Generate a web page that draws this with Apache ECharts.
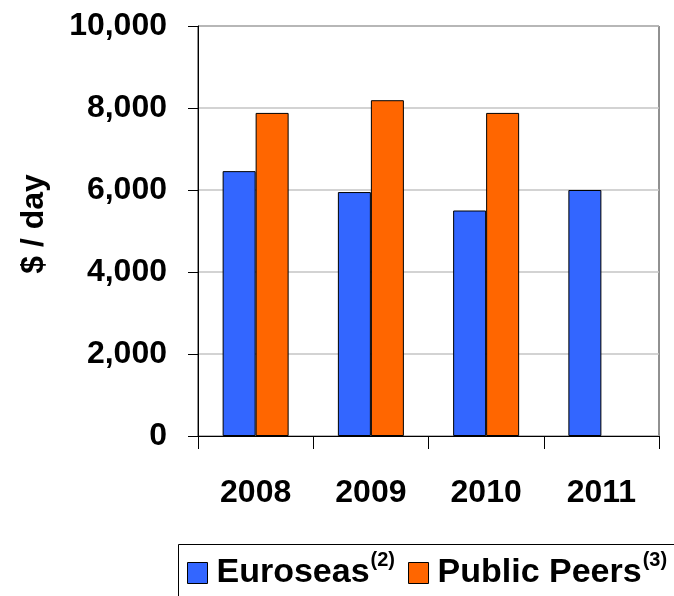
<!DOCTYPE html>
<html>
<head>
<meta charset="utf-8">
<script src="https://cdn.jsdelivr.net/npm/echarts@6/dist/echarts.min.js"></script>
<style>
  html, body { margin: 0; padding: 0; background: #fff; }
  #chart { width: 674px; height: 596px; }
</style>
</head>
<body>
<div id="chart"></div>
<script>
// Daily rates, $ / day
const years = ['2008', '2009', '2010', '2011'];
const euroseas = [6460, 5950, 5500, 6000];
const publicPeers = [7880, 8190, 7880, null];
const seriesNames = ['Euroseas', 'Public Peers'];
const footnotes = { 'Euroseas': '(2)', 'Public Peers': '(3)' };
const yTicks = [0, 2000, 4000, 6000, 8000, 10000];

const FONT = 'Arial, "Liberation Sans", sans-serif';

const chart = echarts.init(document.getElementById('chart'), null, { renderer: 'canvas' });

chart.setOption({
  animation: false,
  backgroundColor: '#ffffff',
  textStyle: { fontFamily: FONT },
  grid: {
    left: 198, right: 15, top: 26, bottom: 160,
    show: true, borderColor: '#222', borderWidth: 1, backgroundColor: 'transparent'
  },
  legend: {
    left: 187, top: 550, padding: 0, width: 487,
    icon: 'rect', itemWidth: 20, itemHeight: 21, itemGap: 13,
    data: seriesNames,
    formatter: name => '{main|' + name + '}{sup|' + footnotes[name] + '}',
    textStyle: {
      fontFamily: FONT, fontSize: 34, fontWeight: 'bold', color: '#000',
      rich: {
        main: { fontFamily: FONT, fontSize: 34, fontWeight: 'bold', color: '#000', padding: [0, 0, 0, 4] },
        sup: { fontFamily: FONT, fontSize: 20, fontWeight: 'bold', color: '#000', verticalAlign: 'top', padding: [0, 0, 26, 1] }
      }
    },
    itemStyle: { borderColor: '#000', borderWidth: 1 }
  },
  graphic: [{
    type: 'rect', left: 176, top: 542, silent: true,
    shape: { x: 0.5, y: 0.5, width: 600, height: 120 },
    style: { fill: 'none', stroke: '#000', lineWidth: 1 }
  }],
  xAxis: {
    type: 'category',
    data: years,
    boundaryGap: true,
    axisLine: { lineStyle: { color: '#000', width: 1 } },
    axisTick: { show: true, length: 13, inside: false, lineStyle: { color: '#000' } },
    axisLabel: { margin: 41, fontFamily: FONT, fontSize: 32, fontWeight: 'bold', color: '#000' },
    splitLine: { show: false }
  },
  yAxis: {
    type: 'value',
    min: yTicks[0], max: yTicks[yTicks.length - 1], interval: 2000,
    name: '$ / day',
    nameLocation: 'middle', nameRotate: 90, nameGap: 148,
    nameTextStyle: { fontFamily: FONT, fontSize: 32, fontWeight: 'bold', color: '#000', padding: [0, 0, 0, 14] },
    axisLine: { show: true, lineStyle: { color: '#000', width: 1 } },
    axisTick: { show: true, length: 10, lineStyle: { color: '#000' } },
    axisLabel: {
      margin: 31, fontFamily: FONT, fontSize: 32, fontWeight: 'bold', color: '#000',
      formatter: v => v.toLocaleString('en-US')
    },
    splitLine: { show: true, lineStyle: { color: '#c4c4c4', width: 1.5 } }
  },
  series: [
    {
      name: seriesNames[0], type: 'bar', data: euroseas,
      barWidth: 33, barGap: '0%',
      itemStyle: { color: '#3366FF', borderColor: '#000', borderWidth: 1 }
    },
    {
      name: seriesNames[1], type: 'bar', data: publicPeers,
      barWidth: 33, barGap: '0%',
      itemStyle: { color: '#FF6600', borderColor: '#000', borderWidth: 1 }
    }
  ]
});
</script>
</body>
</html>
